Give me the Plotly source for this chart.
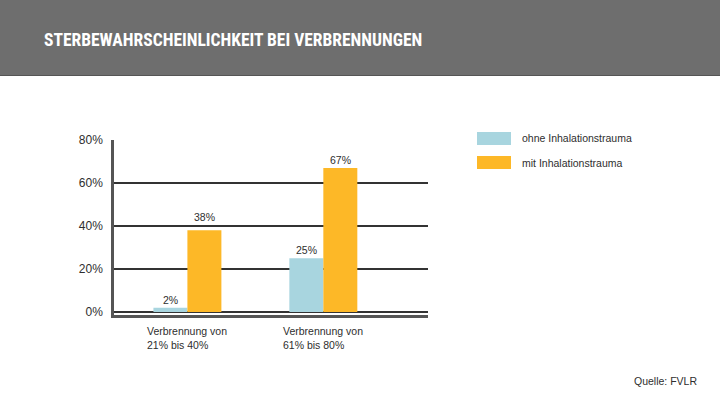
import plotly.graph_objects as go

# data
categories = ['Verbrennung von<br>21% bis 40%', 'Verbrennung von<br>61% bis 80%']
series_names = ['ohne Inhalationstrauma', 'mit Inhalationstrauma']
ohne_values = [2, 25]
mit_values = [38, 67]
y_ticks = [0, 20, 40, 60, 80]

colors = ['#a8d5df', '#fdb827']
font_main = 'Liberation Sans, Arial, sans-serif'
text_col = '#2e2e2e'

W, H = 720, 405
L, R, T, B = 114, 428, 140, 315
BARGAP = 0.5


def px(x):
    return (x - L) / (R - L)


def py(y):
    return (B - y) / (B - T)


fig = go.Figure()
annotations = []
all_series = [ohne_values, mit_values]
bar_w = (1 - BARGAP) / len(all_series)
for s, (name, vals, col) in enumerate(zip(series_names, all_series, colors)):
    fig.add_trace(go.Bar(
        x=list(range(len(categories))), y=vals, name=name,
        marker=dict(color=col, line=dict(width=0)),
        showlegend=False, hoverinfo='skip',
    ))
    # value labels; lift a label when it would sit on a gridline
    offset = (s - (len(all_series) - 1) / 2) * bar_w
    for i, v in enumerate(vals):
        near_grid = any(0 < t - v < 4 for t in y_ticks)
        annotations.append(dict(text=f'{v}%', x=i + offset, y=v, xref='x', yref='y',
                                yanchor='middle', yshift=13 if near_grid else 8, showarrow=False,
                                font=dict(size=10.5, color=text_col, family=font_main)))

shapes = [
    # header band
    dict(type='rect', xref='paper', yref='paper', x0=px(0), x1=px(W), y0=py(75), y1=py(0),
         fillcolor='#6e6e6e', line=dict(width=0), layer='below'),
    dict(type='line', xref='paper', yref='paper', x0=px(0), x1=px(W), y0=py(75.5), y1=py(75.5),
         line=dict(color='#555555', width=1)),
]
annotations += [
    dict(text='<b>STERBEWAHRSCHEINLICHKEIT BEI VERBRENNUNGEN</b>', xref='paper', yref='paper',
         x=px(42), y=py(40), xanchor='left', yanchor='middle', showarrow=False,
         font=dict(size=17.5, color='white', family='Roboto Condensed, sans-serif')),
    dict(text='Quelle: FVLR', xref='paper', yref='paper', x=px(699), y=py(381),
         xanchor='right', yanchor='middle', showarrow=False,
         font=dict(size=10.5, color=text_col, family=font_main)),
]

# category labels under the axis
for i, c in enumerate(categories):
    annotations.append(dict(text=c, x=i, xref='x', y=0, yref='paper', yanchor='top',
                            xanchor='center', align='left', yshift=-8, showarrow=False,
                            font=dict(size=10.5, color=text_col, family=font_main)))

# legend drawn by hand
for k, (name, col) in enumerate(zip(series_names, colors)):
    top = 132 + k * 24
    shapes.append(dict(type='rect', xref='paper', yref='paper', x0=px(477), x1=px(511),
                       y0=py(top + 13), y1=py(top), fillcolor=col, line=dict(width=0)))
    annotations.append(dict(text=name, xref='paper', yref='paper', x=px(520), y=py(top + 6.5),
                            xanchor='left', yanchor='middle', showarrow=False,
                            font=dict(size=10.5, color=text_col, family=font_main)))

fig.update_layout(
    width=W, height=H, autosize=False,
    margin=dict(l=L, r=W - R, t=T, b=H - B, pad=0),
    paper_bgcolor='white', plot_bgcolor='white',
    barmode='group', bargap=BARGAP, bargroupgap=0,
    shapes=shapes, annotations=annotations,
    font=dict(family=font_main, color=text_col),
)
fig.update_xaxes(range=[-0.54, 1.77], showticklabels=False, showgrid=False, zeroline=False,
                 showline=True, linecolor='#555555', linewidth=2.5, fixedrange=True)
fig.update_yaxes(range=[-1.4, 80], tickvals=y_ticks, ticktext=[f'{v}%' for v in y_ticks],
                 showgrid=True, gridcolor='#333333', gridwidth=1.5, zeroline=False,
                 showline=True, linecolor='#555555', linewidth=2.5, ticklabelstandoff=6,
                 tickfont=dict(size=12, color=text_col, family=font_main), fixedrange=True)

fig.write_html('out.html', config={'displayModeBar': False},
               post_script="document.body.style.margin='0';")
